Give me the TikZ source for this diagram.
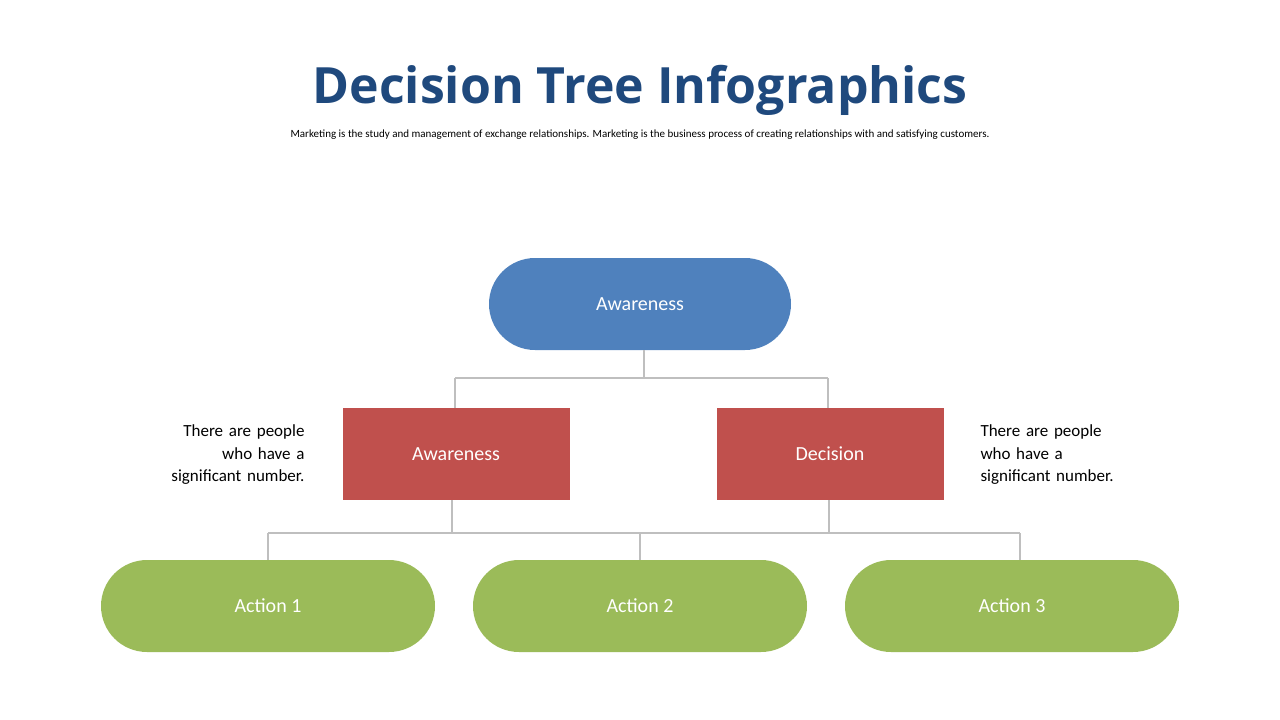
\documentclass[tikz,border=0pt]{standalone}
\usepackage{fontspec}
\setmainfont{Carlito}
\newfontfamily\titlefont{Open Sans}
\definecolor{cblue}{HTML}{4F81BD}
\definecolor{cred}{HTML}{C0504D}
\definecolor{cgreen}{HTML}{9BBB59}
\definecolor{ctitle}{HTML}{1F497D}
\definecolor{cline}{HTML}{BFBFBF}
\begin{document}
\begin{tikzpicture}[x=1pt,y=-1pt,
  pill/.style={rounded corners=46pt,draw=none},
  lab/.style={text=white,font=\fontsize{20}{24}\selectfont},
  side/.style={font=\fontsize{17}{22.5}\selectfont,align=#1,text width=160pt},
  conn/.style={draw=cline,line width=1.5pt}]
\useasboundingbox (0,0) rectangle (1280,720);
\node (title) at (640,90) {\titlefont\bfseries\fontsize{50}{60}\selectfont\color{ctitle}Decision Tree Infographics};
\node (sub) at (640,135) {\fontsize{11}{13}\selectfont Marketing is the study and management of exchange relationships. Marketing is the business process of creating relationships with and satisfying customers.};
% connectors
\coordinate (j1) at (644,378);
\coordinate (l1) at (455,378);
\coordinate (r1) at (828,378);
\coordinate (j2) at (452,533);
\coordinate (j3) at (829,533);
\coordinate (b1) at (268,533);
\coordinate (b2) at (640,533);
\coordinate (b3) at (1020,533);
\fill[cblue,pill] (489,258) rectangle (791,350);
\node[lab] (top) at (640,304) {Awareness};
\fill[cred] (343,408) rectangle (570,500);
\node[lab] (aw) at (456,454) {Awareness};
\fill[cred] (717,408) rectangle (944,500);
\node[lab] (de) at (830,454) {Decision};
\foreach \x/\t/\n in {101/Action 1/a1,473/Action 2/a2,845/Action 3/a3}{
  \fill[cgreen,pill] (\x,560) rectangle (\x+334,652);
  \node[lab] (\n) at (\x+167,606) {\t};
}
\draw[conn] (644,350) -- (j1);
\draw[conn] (l1) -- (r1);
\draw[conn] (l1) -- (455,408);
\draw[conn] (r1) -- (828,408);
\draw[conn] (452,500) -- (j2);
\draw[conn] (829,500) -- (j3);
\draw[conn] (b1) -- (b3);
\draw[conn] (b1) -- (268,560);
\draw[conn] (b2) -- (640,560);
\draw[conn] (b3) -- (1020,560);
\node[side=right,anchor=east] (tl) at (308,455) {There are people\\ who have a\\ significant number.};
\node[side=left,anchor=west] (tr) at (977,455) {There are people\\ who have a\\ significant number.};
\end{tikzpicture}
\end{document}
